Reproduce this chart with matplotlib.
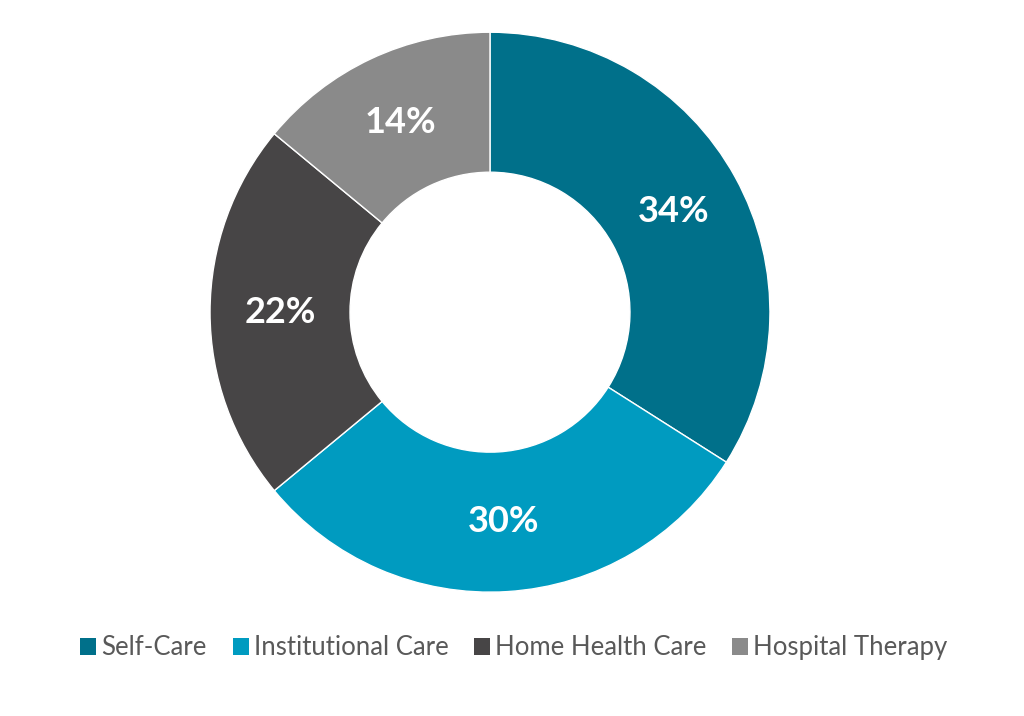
import matplotlib
matplotlib.use("Agg")
import matplotlib.pyplot as plt
from matplotlib.patches import Patch
import numpy as np

# Care setting shares (percent)
categories = ["Self-Care", "Institutional Care", "Home Health Care", "Hospital Therapy"]
shares = [34, 30, 22, 14]
colors = ["#00708a", "#009bc0", "#474546", "#8a8a8a"]

plt.rcParams["font.family"] = ["Lato", "DejaVu Sans"]

fig = plt.figure(figsize=(10.24, 7.16), dpi=100)
ax = fig.add_axes([0.205, 0.173, 0.547, 0.782])

wedges, _ = ax.pie(shares, colors=colors, startangle=90, counterclock=False,
                   radius=1.0, wedgeprops=dict(width=0.5, edgecolor="white", linewidth=1))
ax.set_xlim(-1, 1)
ax.set_ylim(-1, 1)
ax.set_aspect("equal")

for w, v in zip(wedges, shares):
    mid = np.deg2rad((w.theta1 + w.theta2) / 2)
    ax.text(0.75 * np.cos(mid), 0.75 * np.sin(mid), f"{v}%", color="white",
            fontsize=26, fontweight="bold", ha="center", va="center")

handles = [Patch(facecolor=c, edgecolor="none") for c in colors]
fig.legend(handles, categories, loc="center", bbox_to_anchor=(0.502, 0.095), ncol=4,
           frameon=False, fontsize=18.5, handlelength=0.62, handleheight=0.62,
           handletextpad=0.2, columnspacing=1.0, labelcolor="#595959")

fig.savefig("out.png", dpi=100, facecolor="white")
